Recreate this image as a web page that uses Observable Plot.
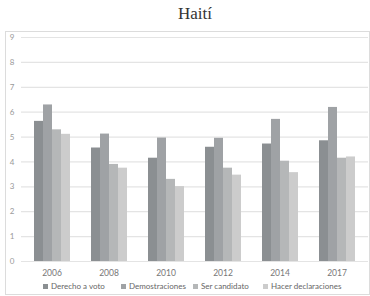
<!DOCTYPE html>
<html>
<head>
<meta charset="utf-8">
<script src="https://cdn.jsdelivr.net/npm/d3@7"></script>
<script src="https://cdn.jsdelivr.net/npm/@observablehq/plot@0.6"></script>
<style>
  html, body { margin: 0; padding: 0; background: #fff; overflow: hidden; }
  #wrap { position: relative; width: 370px; height: 296px; }
  #title { position: absolute; top: 4px; left: 20px; width: 350px; text-align: center;
           font-family: "Liberation Serif", "DejaVu Serif", serif; font-size: 17px; color: #333; }
  #box { position: absolute; left: 5px; top: 31px; width: 363px; height: 262px; border: 1px solid #dcdcdc; }
  .layer { position: absolute; left: 0; top: 31px; }
  #legend { position: absolute; top: 281px; left: 0; width: 370px; height: 12px;
            font-family: Lato, "Open Sans", sans-serif; font-size: 8px; color: #666; white-space: nowrap; }
  #legend .item { position: absolute; top: 0; }
  #legend span.sw { display: inline-block; width: 5px; height: 5px; margin-right: 3px; vertical-align: 0px; }
</style>
</head>
<body>
<div id="wrap">
  <div id="title">Haití</div>
  <div id="box"></div>
  <div id="grid" class="layer"></div>
  <div id="bars" class="layer"></div>
  <div id="legend"></div>
</div>
<script>
const years = ["2006", "2008", "2010", "2012", "2014", "2017"];
const series = ["Derecho a voto", "Demostraciones", "Ser candidato", "Hacer declaraciones"];
const derechoAVoto = [5.63, 4.56, 4.15, 4.59, 4.72, 4.85];
const demostraciones = [6.29, 5.12, 4.96, 4.95, 5.71, 6.19];
const serCandidato = [5.29, 3.90, 3.30, 3.75, 4.03, 4.15];
const hacerDeclaraciones = [5.11, 3.75, 3.01, 3.47, 3.57, 4.20];
const yTicks = [0, 1, 2, 3, 4, 5, 6, 7, 8, 9];
const colors = ["#8b8f92", "#9fa2a5", "#b5b7b8", "#cccccc"];
const legendLeft = [43, 121, 193, 263];

const valuesBySeries = [derechoAVoto, demostraciones, serCandidato, hacerDeclaraciones];
const data = [];
years.forEach((yr, i) => series.forEach((s, j) => data.push({year: yr, series: s, value: valuesBySeries[j][i]})));

const W = 370, H = 265, MT = 6, MB = 35;

const grid = Plot.plot({
  width: W, height: H,
  marginTop: MT, marginBottom: MB, marginLeft: 21, marginRight: 2,
  style: {background: "none", overflow: "visible"},
  x: {axis: null, domain: [0, 1]},
  y: {domain: [0, 9], ticks: yTicks, label: null, tickSize: 0, tickPadding: 7, tickFormat: d => String(d)},
  marks: [
    Plot.ruleY(yTicks, {stroke: "#e4e4e4", strokeWidth: 1.2}),
    Plot.axisY(yTicks, {tickSize: 0, tickPadding: 7, label: null, fill: "#999", fontSize: 8,
      fontFamily: "Lato, sans-serif"})
  ]
});
document.getElementById("grid").append(grid);

const bars = Plot.plot({
  width: W, height: H,
  marginTop: MT, marginBottom: MB, marginLeft: 21, marginRight: 2,
  style: {background: "none", overflow: "visible", fontFamily: "Lato, sans-serif"},
  fx: {domain: years, paddingInner: 0.35, paddingOuter: 0.175, label: null, axis: null},
  x: {domain: series, padding: 0, axis: null},
  y: {domain: [0, 9], axis: null},
  color: {domain: series, range: colors},
  marks: [
    Plot.barY(data, {fx: "year", x: "series", y: "value", fill: "series"}),
    Plot.axisFx({anchor: "bottom", tickSize: 0, tickPadding: 8, label: null, fill: "#777", fontSize: 8.5})
  ]
});
document.getElementById("bars").append(bars);

const legend = document.getElementById("legend");
series.forEach((s, j) => {
  const item = document.createElement("div");
  item.className = "item";
  item.style.left = legendLeft[j] + "px";
  const sw = document.createElement("span");
  sw.className = "sw";
  sw.style.background = colors[j];
  item.append(sw, document.createTextNode(s));
  legend.append(item);
});
</script>
</body>
</html>
